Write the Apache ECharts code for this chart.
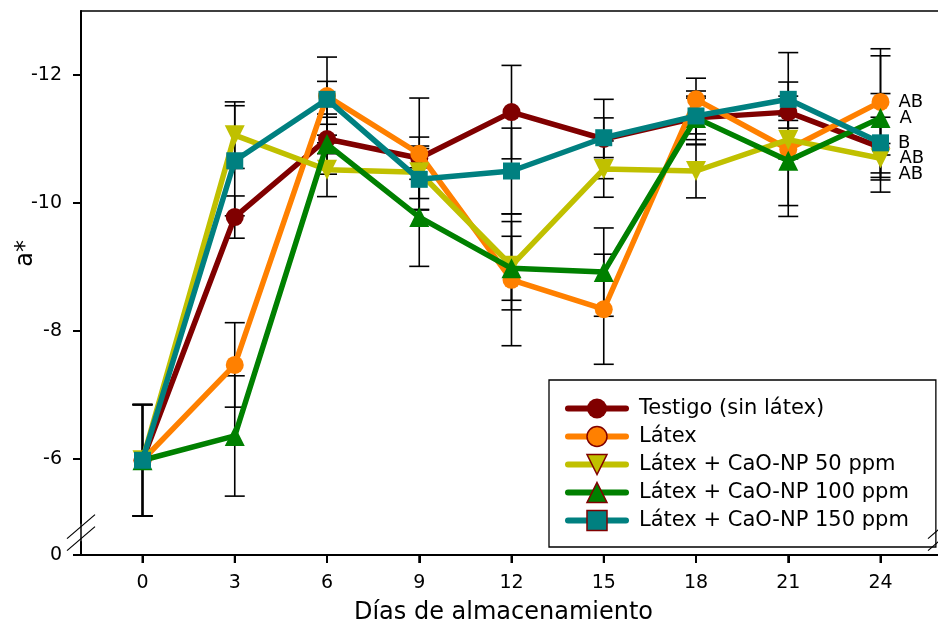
<!DOCTYPE html>
<html>
<head>
<meta charset="utf-8">
<script src="https://cdn.jsdelivr.net/npm/echarts@6/dist/echarts.min.js"></script>
<style>
  html, body { margin: 0; padding: 0; background: #fff; }
  #chart { width: 938px; height: 626px; }
</style>
</head>
<body>
<div id="chart"></div>
<script>
// Storage days (x) and a* means per treatment
const days = [0, 3, 6, 9, 12, 15, 18, 21, 24];
const seriesNames = [
  'Testigo (sin látex)',
  'Látex',
  'Látex + CaO-NP 50 ppm',
  'Látex + CaO-NP 100 ppm',
  'Látex + CaO-NP 150 ppm'
];
const testigo = [-5.98, -9.78, -11.0, -10.7, -11.42, -11.0, -11.33, -11.42, -10.87];
const latex   = [-5.98, -7.47, -11.67, -10.77, -8.8, -8.34, -11.62, -10.84, -11.58];
const np50    = [-5.98, -11.06, -10.52, -10.48, -9.02, -10.53, -10.5, -10.99, -10.7];
const np100   = [-5.98, -6.36, -10.92, -9.78, -8.98, -8.92, -11.33, -10.66, -11.33];
const np150   = [-5.98, -10.66, -11.62, -10.37, -10.5, -11.02, -11.36, -11.62, -10.94];

// Standard deviations (half-length of each error bar)
const errTestigo = [0.87, 0.33, 0.23, 0.33, 0.73, 0.62, 0.42, 0.25, 0.47];
const errLatex   = [0.87, 0.66, 0.61, 0.87, 1.03, 0.86, 0.33, 1.05, 0.83];
const err50      = [0.87, 0.52, 0.42, 0.41, 0.69, 0.44, 0.42, 0.30, 0.23];
const err100     = [0.87, 0.94, 0.47, 0.77, 0.50, 0.69, 0.34, 0.70, 0.97];
const err150     = [0.87, 0.86, 0.28, 0.48, 0.67, 0.31, 0.28, 0.73, 0.77];

// Significance letters at the last storage day
const lettersDay24 = ['AB', 'AB', 'AB', 'A', 'B'];

const xTicks = [0, 3, 6, 9, 12, 15, 18, 21, 24];
const yTicks = [-12, -10, -8, -6, 0];

const values = [testigo, latex, np50, np100, np150];
const errors = [errTestigo, errLatex, err50, err100, err150];
const colors = ['#800000', '#FF8000', '#C0C000', '#008000', '#008080'];
const symbols = ['circle', 'circle', 'triangle', 'triangle', 'rect'];
const symbolSizes = [18, 18, 20, 20, 17];
const symbolRotates = [0, 0, 180, 0, 0];
const labelOffsets = [[0, 27], [0, 0], [0, 0], [0, 0], [0, 0]];

const FONT = 'DejaVu Sans';
const X_MIN = -2, X_MAX = 26;
const TICK_LEN = 8;

const chart = echarts.init(document.getElementById('chart'));

const errorSeries = values.map((vals, s) => ({
  type: 'custom',
  name: seriesNames[s] + ' DE',
  z: 1,
  silent: true,
  data: days.map((d, i) => [d, vals[i] - errors[s][i], vals[i] + errors[s][i]]),
  renderItem: function (params, api) {
    const x = api.value(0);
    const p1 = api.coord([x, api.value(1)]);
    const p2 = api.coord([x, api.value(2)]);
    const hw = 10;
    const st = { stroke: '#000', lineWidth: 1.6 };
    return {
      type: 'group',
      children: [
        { type: 'line', shape: { x1: p1[0], y1: p1[1], x2: p2[0], y2: p2[1] }, style: st },
        { type: 'line', shape: { x1: p1[0] - hw, y1: p1[1], x2: p1[0] + hw, y2: p1[1] }, style: st },
        { type: 'line', shape: { x1: p2[0] - hw, y1: p2[1], x2: p2[0] + hw, y2: p2[1] }, style: st }
      ]
    };
  }
}));

const lineSeries = values.map((vals, s) => ({
  type: 'line',
  name: seriesNames[s],
  z: 3 + s,
  data: days.map((d, i) => [d, vals[i]]),
  symbol: symbols[s],
  symbolSize: symbolSizes[s],
  symbolRotate: symbolRotates[s],
  showAllSymbol: true,
  lineStyle: { color: colors[s], width: 5.5 },
  itemStyle: { color: colors[s] },
  emphasis: { disabled: true },
  label: {
    show: true,
    position: 'right',
    distance: 9,
    offset: labelOffsets[s],
    fontFamily: FONT,
    fontSize: 18,
    color: '#000',
    formatter: function (p) {
      return p.dataIndex === days.length - 1 ? lettersDay24[s] : '';
    }
  }
}));

const option = {
  animation: false,
  backgroundColor: '#fff',
  grid: {
    left: 81, right: -4, top: 11, bottom: 71,
    outerBoundsMode: 'none',
    show: true, borderColor: '#000', borderWidth: 1.5
  },
  xAxis: {
    type: 'value',
    min: X_MIN, max: X_MAX,
    name: 'Días de almacenamiento',
    nameLocation: 'middle',
    nameGap: 46,
    nameTextStyle: { fontFamily: FONT, fontSize: 24, color: '#000', padding: [0, 16, 0, 0] },
    axisLine: { onZero: false, lineStyle: { color: '#000', width: 2 } },
    axisTick: { show: true, customValues: xTicks, length: TICK_LEN, lineStyle: { color: '#000', width: 2 } },
    axisLabel: { customValues: xTicks, margin: 19, fontFamily: FONT, fontSize: 19, color: '#000' },
    splitLine: { show: false }
  },
  yAxis: {
    type: 'value',
    inverse: true,
    min: -13, max: 0,
    breaks: [{ start: -5, end: -0.2, gap: 0.3 }],
    breakArea: { show: false },
    axisLine: { show: true, onZero: false, lineStyle: { color: '#000', width: 2 } },
    axisTick: { show: true, customValues: yTicks, length: TICK_LEN, lineStyle: { color: '#000', width: 2 } },
    axisLabel: { customValues: yTicks, margin: 19, fontFamily: FONT, fontSize: 19, color: '#000' },
    splitLine: { show: false }
  },
  legend: {
    orient: 'vertical',
    left: 549,
    top: 380,
    padding: [16, 27, 14, 16],
    backgroundColor: '#fff',
    borderColor: '#000',
    borderWidth: 1.3,
    borderRadius: 0,
    itemWidth: 58,
    itemHeight: 25,
    itemGap: 3,
    selectedMode: false,
    lineStyle: { width: 6, cap: 'round' },
    textStyle: { fontFamily: FONT, fontSize: 21, lineHeight: 25, color: '#000', padding: [0, 0, 0, 8] },
    data: seriesNames.map((n, s) => ({
      name: n,
      itemStyle: s === 0 ? {} : { borderColor: '#800000', borderWidth: 1.5 }
    }))
  },
  graphic: [{
    type: 'text',
    left: 14,
    top: 240,
    rotation: Math.PI / 2,
    style: { text: 'a*', fontFamily: FONT, fontSize: 24, fill: '#000' }
  }],
  series: errorSeries.concat(lineSeries)
};

chart.setOption(option);

// Outward tick marks and the axis-break marks on the frame edges
(function drawFrameDecorations() {
  const toY = v => chart.convertToPixel({ yAxisIndex: 0 }, v);
  const toX = v => chart.convertToPixel({ xAxisIndex: 0 }, v);
  const xl = toX(X_MIN);
  const xr = toX(X_MAX);
  const yBottom = toY(0);
  const extra = [];
  const tickStyle = { stroke: '#000', lineWidth: 2 };

  yTicks.forEach(function (v) {
    const y = toY(v);
    extra.push({ type: 'line', z: 100, shape: { x1: xl - TICK_LEN, y1: y, x2: xl, y2: y }, style: tickStyle });
  });
  xTicks.forEach(function (v) {
    const x = toX(v);
    extra.push({ type: 'line', z: 100, shape: { x1: x, y1: yBottom, x2: x, y2: yBottom + TICK_LEN }, style: tickStyle });
  });

  const yc = (toY(-5) + toY(-0.2)) / 2;
  [xl, xr].forEach(function (xc) {
    [-6, 6].forEach(function (dy) {
      extra.push({
        type: 'line',
        z: 100,
        shape: { x1: xc - 14, y1: yc + dy + 12, x2: xc + 14, y2: yc + dy - 12 },
        style: { stroke: '#000', lineWidth: 1.2 }
      });
    });
  });
  chart.setOption({ graphic: option.graphic.concat(extra) });
})();
</script>
</body>
</html>
